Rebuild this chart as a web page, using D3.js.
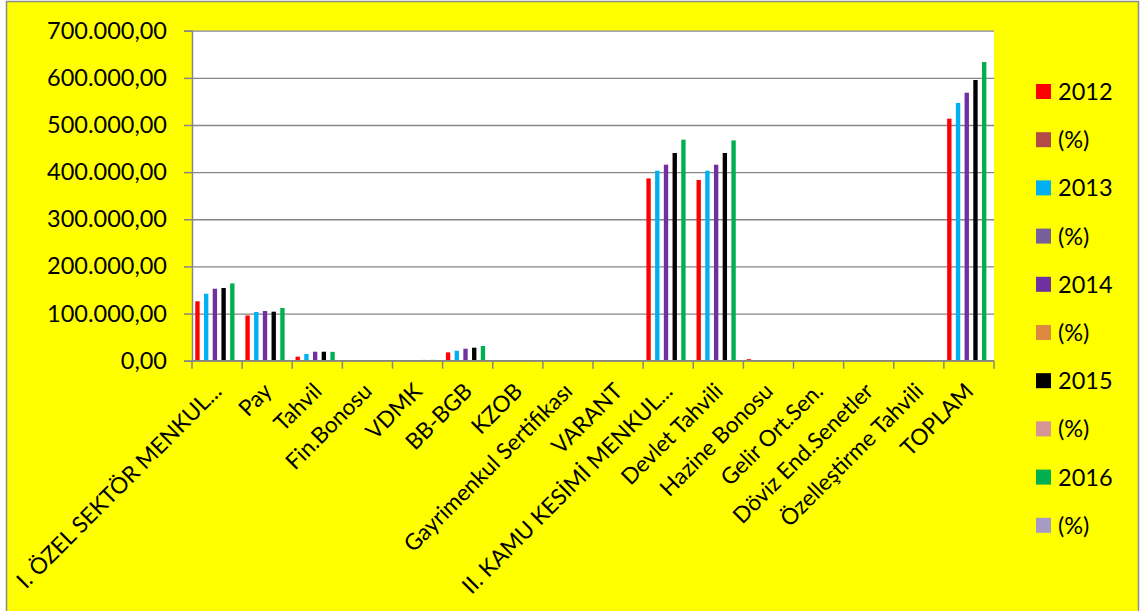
<!DOCTYPE html>
<html>
<head>
<meta charset="utf-8">
<script src="https://cdn.jsdelivr.net/npm/d3@7"></script>
<style>
  body { margin: 0; background: #ffffff; }
  svg { display: block; }
  text { font-family: Lato, "Open Sans", sans-serif; fill: #000; }
</style>
</head>
<body>
<svg id="chart" width="1146" height="611"></svg>
<script>
// Categories along the x axis
const categories = [
  "I. ÖZEL SEKTÖR MENKUL...", "Pay", "Tahvil", "Fin.Bonosu", "VDMK", "BB-BGB",
  "KZOB", "Gayrimenkul Sertifikası", "VARANT", "II. KAMU KESİMİ MENKUL...",
  "Devlet Tahvili", "Hazine Bonosu", "Gelir Ort.Sen.", "Döviz End.Senetler",
  "Özelleştirme Tahvili", "TOPLAM"
];

// Series values per category
const v2012 = [126000, 96000, 8500, 0, 1100, 17600, 0, 0, 0, 386700, 383300, 3200, 0, 0, 0, 513400];
const p2012 = [0, 0, 0, 0, 0, 0, 0, 0, 0, 0, 0, 0, 0, 0, 0, 0];
const v2013 = [142100, 103300, 14200, 0, 1300, 21200, 0, 0, 0, 403000, 403000, 0, 0, 0, 0, 546700];
const p2013 = [0, 0, 0, 0, 0, 0, 0, 0, 0, 0, 0, 0, 0, 0, 0, 0];
const v2014 = [152700, 105400, 19100, 0, 1500, 25400, 0, 0, 0, 415800, 415800, 0, 0, 0, 0, 568500];
const p2014 = [0, 0, 0, 0, 0, 0, 0, 0, 0, 0, 0, 0, 0, 0, 0, 0];
const v2015 = [154200, 104000, 19000, 0, 1600, 27600, 0, 0, 0, 440600, 440600, 0, 0, 0, 0, 595400];
const p2015 = [0, 0, 0, 0, 0, 0, 0, 0, 0, 0, 0, 0, 0, 0, 0, 0];
const v2016 = [164000, 111800, 18800, 0, 1800, 31100, 0, 0, 0, 468800, 467300, 0, 0, 0, 0, 633600];
const p2016 = [0, 0, 0, 0, 0, 0, 0, 0, 0, 0, 0, 0, 0, 0, 0, 0];

const seriesNames = ["2012", "(%)", "2013", "(%)", "2014", "(%)", "2015", "(%)", "2016", "(%)"];
const seriesColors = ["#FF0000", "#B24B48", "#00B0F0", "#77609A", "#7030A0",
                      "#DD8A40", "#000000", "#D59594", "#00B050", "#A79BC4"];
const seriesValues = [v2012, p2012, v2013, p2013, v2014, p2014, v2015, p2015, v2016, p2016];

// Y axis tick values
const yTicks = [0, 100000, 200000, 300000, 400000, 500000, 600000, 700000];

const svg = d3.select("#chart");
const plot = { left: 192, right: 994, top: 30.7, bottom: 360.7 };
const gridColor = "#868686";
const fontSize = "23.5px";

// Chart background and frame
svg.append("rect")
  .attr("x", 6.5).attr("y", 1.5).attr("width", 1132).attr("height", 640)
  .attr("fill", "#FFFF00").attr("stroke", "#8c8c8c").attr("stroke-width", 1.5);

// Plot area
svg.append("rect")
  .attr("x", plot.left).attr("y", plot.top)
  .attr("width", plot.right - plot.left).attr("height", plot.bottom - plot.top)
  .attr("fill", "#ffffff");

const tr = d3.formatLocale({ decimal: ",", thousands: ".", grouping: [3], currency: ["", " TL"] });
const fmt = tr.format(",.2f");

const x = d3.scaleBand().domain(categories).range([plot.left, plot.right]).padding(0);
const xs = d3.scaleBand().domain(d3.range(seriesNames.length))
  .range([0, x.step()]).paddingInner(0).paddingOuter(0.75);
const y = d3.scaleLinear().domain([0, 700000]).range([plot.bottom, plot.top]);

// Horizontal gridlines
svg.append("g")
  .attr("transform", `translate(${plot.left},0)`)
  .call(d3.axisLeft(y).tickValues(yTicks).tickSize(-(plot.right - plot.left)).tickFormat(""))
  .call(g => g.select(".domain").remove())
  .call(g => g.selectAll("line").attr("stroke", gridColor).attr("stroke-width", 1.3));

// Bars
const series = svg.append("g");
seriesValues.forEach((vals, si) => {
  series.append("g")
    .attr("fill", seriesColors[si])
    .selectAll("rect")
    .data(vals.map((v, i) => ({ cat: categories[i], v })))
    .join("rect")
    .attr("x", d => x(d.cat) + xs(si))
    .attr("width", xs.bandwidth())
    .attr("y", d => y(d.v))
    .attr("height", d => y(0) - y(d.v));
});

// Y axis with labels
svg.append("g")
  .attr("transform", `translate(${plot.left},0)`)
  .call(d3.axisLeft(y).tickValues(yTicks).tickSize(8).tickPadding(17).tickFormat(fmt))
  .call(g => g.select(".domain").attr("stroke", gridColor).attr("stroke-width", 1.5))
  .call(g => g.selectAll("line").attr("stroke", gridColor).attr("stroke-width", 1.5))
  .call(g => g.selectAll("text").style("font-family", "Lato, 'Open Sans', sans-serif")
    .style("font-size", fontSize).attr("fill", "#000"));

// X axis line and category boundary ticks
const xAxis = svg.append("g").attr("transform", `translate(0,${plot.bottom})`);
xAxis.append("line")
  .attr("x1", plot.left).attr("x2", plot.right)
  .attr("stroke", gridColor).attr("stroke-width", 1.5);
xAxis.selectAll("line.boundary")
  .data(d3.range(categories.length + 1))
  .join("line")
  .attr("class", "boundary")
  .attr("x1", i => plot.left + i * x.step()).attr("x2", i => plot.left + i * x.step())
  .attr("y1", 0).attr("y2", 8)
  .attr("stroke", gridColor).attr("stroke-width", 1.5);

// Rotated category labels
xAxis.selectAll("text.cat")
  .data(categories)
  .join("text")
  .attr("class", "cat")
  .attr("transform", d => `translate(${x(d) + x.bandwidth() / 2 - 6},${20}) rotate(-45)`)
  .attr("text-anchor", "end")
  .attr("dy", "0.75em")
  .style("font-size", "22.5px")
  .text(d => d);

// Legend
const legend = svg.append("g");
seriesNames.forEach((name, i) => {
  const cy = 91.5 + i * 48.2;
  legend.append("rect")
    .attr("x", 1036).attr("y", cy - 7.5).attr("width", 15).attr("height", 15)
    .attr("fill", seriesColors[i]);
  legend.append("text")
    .attr("x", 1058).attr("y", cy).attr("dy", "0.36em")
    .style("font-size", fontSize)
    .text(name);
});
</script>
</body>
</html>
